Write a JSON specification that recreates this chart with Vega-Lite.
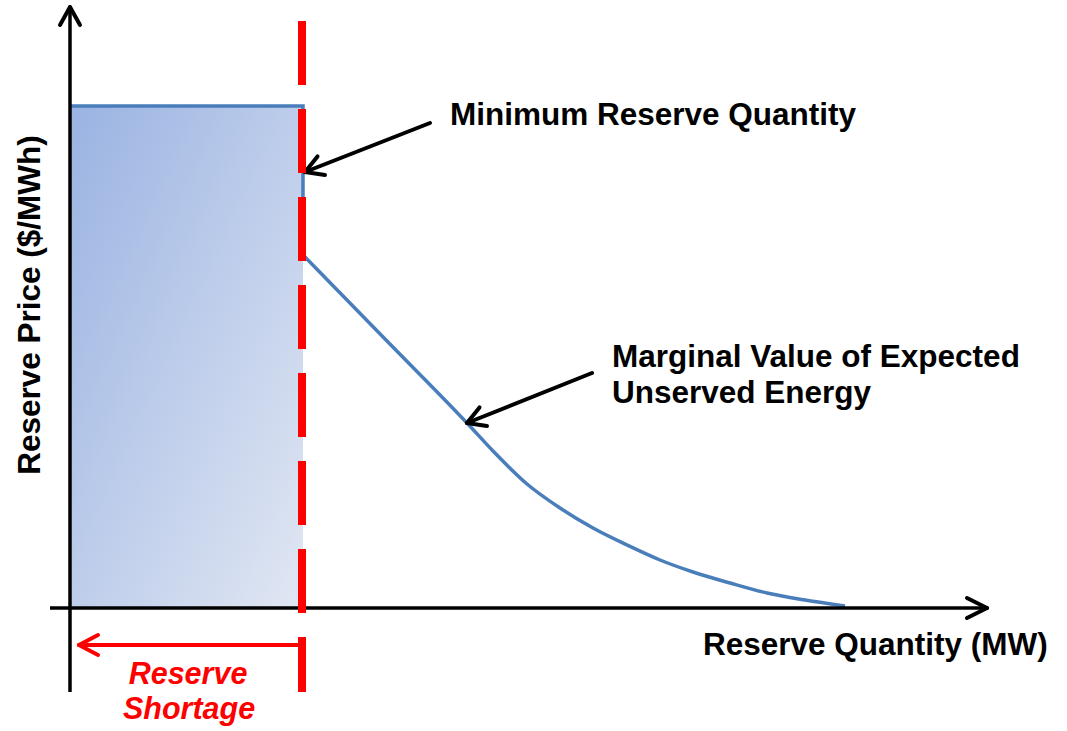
{
  "$schema": "https://vega.github.io/schema/vega-lite/v6.json",
  "width": 1067,
  "height": 731,
  "padding": 0,
  "autosize": {"type": "fit", "contains": "padding"},
  "background": "white",
  "config": {"view": {"stroke": null}},
  "datasets": {
    "fill": [{"x": 0, "y": 0, "x2": 23.3, "y2": 50.2}],
    "curve": [
      {"part": "step", "i": 0, "x": 0, "y": 50.2},
      {"part": "step", "i": 1, "x": 23.3, "y": 50.2},
      {"part": "step", "i": 2, "x": 23.3, "y": 35.1},
      {"part": "step", "i": 3, "x": 23.5, "y": 35.1},
      {"part": "tail", "i": 4, "x": 23.5, "y": 35.1},
      {"part": "tail", "i": 5, "x": 31.6, "y": 26.8},
      {"part": "tail", "i": 6, "x": 39.7, "y": 18.5},
      {"part": "tail", "i": 7, "x": 42.3, "y": 15.7},
      {"part": "tail", "i": 8, "x": 45.7, "y": 12.4},
      {"part": "tail", "i": 9, "x": 49.0, "y": 10.0},
      {"part": "tail", "i": 10, "x": 52.3, "y": 8.0},
      {"part": "tail", "i": 11, "x": 55.7, "y": 6.3},
      {"part": "tail", "i": 12, "x": 59.0, "y": 4.8},
      {"part": "tail", "i": 13, "x": 62.3, "y": 3.6},
      {"part": "tail", "i": 14, "x": 66.0, "y": 2.5},
      {"part": "tail", "i": 15, "x": 69.7, "y": 1.5},
      {"part": "tail", "i": 16, "x": 73.5, "y": 0.8},
      {"part": "tail", "i": 17, "x": 77.5, "y": 0.2}
    ],
    "segs": [
      {"g": "axis", "x": 0, "y": -8.4, "x2": 0, "y2": 60.1},
      {"g": "axis", "x": -2, "y": 0, "x2": 91.7, "y2": 0},
      {"g": "head", "x": -1, "y": 58.3, "x2": 0, "y2": 60.1},
      {"g": "head", "x": 1, "y": 58.3, "x2": 0, "y2": 60.1},
      {"g": "head", "x": 89.7, "y": 1.0, "x2": 91.7, "y2": 0},
      {"g": "head", "x": 89.7, "y": -1.0, "x2": 91.7, "y2": 0},
      {"g": "head", "x": 36.0, "y": 48.5, "x2": 23.5, "y2": 43.6},
      {"g": "head", "x": 25.5, "y": 43.3, "x2": 23.5, "y2": 43.6},
      {"g": "head", "x": 24.75, "y": 45.16, "x2": 23.5, "y2": 43.6},
      {"g": "head", "x": 52.2, "y": 23.5, "x2": 39.7, "y2": 18.5},
      {"g": "head", "x": 41.7, "y": 18.2, "x2": 39.7, "y2": 18.5},
      {"g": "head", "x": 40.95, "y": 20.06, "x2": 39.7, "y2": 18.5},
      {"g": "red", "x": 23.0, "y": -3.7, "x2": 0.9, "y2": -3.7},
      {"g": "red", "x": 2.8, "y": -2.7, "x2": 0.9, "y2": -3.7},
      {"g": "red", "x": 2.8, "y": -4.7, "x2": 0.9, "y2": -3.7},
      {"g": "dash", "x": 23.2, "y": 58.7, "x2": 23.2, "y2": -8.4}
    ],
    "labels": [
      {"g": "black", "x": 38.0, "y": 48.3, "t": "Minimum Reserve Quantity"},
      {"g": "black", "x": 54.2, "y": 24.1, "t": "Marginal Value of Expected"},
      {"g": "black", "x": 54.2, "y": 20.5, "t": "Unserved Energy"},
      {"g": "black", "x": 63.3, "y": -4.7, "t": "Reserve Quantity (MW)"},
      {"g": "yaxis", "x": -3.0, "y": 30.3, "t": "Reserve Price ($/MWh)"},
      {"g": "red", "x": 11.8, "y": -7.6, "t": "Reserve"},
      {"g": "red", "x": 11.9, "y": -11.1, "t": "Shortage"}
    ]
  },
  "encoding": {
    "x": {"field": "x", "type": "quantitative", "scale": {"domain": [-7, 99.7], "nice": false, "zero": false}, "axis": null},
    "y": {"field": "y", "type": "quantitative", "scale": {"domain": [-12.3, 60.8], "nice": false, "zero": false}, "axis": null}
  },
  "layer": [
    {
      "data": {"name": "fill"},
      "mark": {"type": "rect", "fill": {"gradient": "linear", "x1": 0, "y1": 0, "x2": 1, "y2": 1, "stops": [{"offset": 0, "color": "#9AB3E2"}, {"offset": 1, "color": "#E1E7F3"}]}},
      "encoding": {"x2": {"field": "x2"}, "y2": {"field": "y2"}}
    },
    {
      "data": {"name": "curve"},
      "transform": [{"filter": "datum.part === 'step'"}],
      "mark": {"type": "line", "color": "#4A7EBB", "strokeWidth": 3.5, "strokeJoin": "miter"},
      "encoding": {"order": {"field": "i", "type": "quantitative"}}
    },
    {
      "data": {"name": "curve"},
      "transform": [{"filter": "datum.part === 'tail'"}],
      "mark": {"type": "line", "color": "#4A7EBB", "strokeWidth": 3.5, "interpolate": "monotone"},
      "encoding": {"order": {"field": "i", "type": "quantitative"}}
    },
    {
      "data": {"name": "segs"},
      "transform": [{"filter": "datum.g === 'axis'"}],
      "mark": {"type": "rule", "color": "black", "strokeWidth": 3.5},
      "encoding": {"x2": {"field": "x2"}, "y2": {"field": "y2"}}
    },
    {
      "data": {"name": "segs"},
      "transform": [{"filter": "datum.g === 'head'"}],
      "mark": {"type": "rule", "color": "black", "strokeWidth": 4, "strokeCap": "round"},
      "encoding": {"x2": {"field": "x2"}, "y2": {"field": "y2"}}
    },
    {
      "data": {"name": "segs"},
      "transform": [{"filter": "datum.g === 'dash'"}],
      "mark": {"type": "rule", "color": "#FF0000", "strokeWidth": 8, "strokeDash": [64, 24]},
      "encoding": {"x2": {"field": "x2"}, "y2": {"field": "y2"}}
    },
    {
      "data": {"name": "segs"},
      "transform": [{"filter": "datum.g === 'red'"}],
      "mark": {"type": "rule", "color": "#FF0000", "strokeWidth": 4, "strokeCap": "round"},
      "encoding": {"x2": {"field": "x2"}, "y2": {"field": "y2"}}
    },
    {
      "data": {"name": "labels"},
      "transform": [{"filter": "datum.g === 'black'"}],
      "mark": {"type": "text", "font": "Liberation Sans", "fontSize": 31.5, "fontWeight": "bold", "color": "black", "align": "left", "baseline": "alphabetic"},
      "encoding": {"text": {"field": "t"}}
    },
    {
      "data": {"name": "labels"},
      "transform": [{"filter": "datum.g === 'yaxis'"}],
      "mark": {"type": "text", "font": "Liberation Sans", "fontSize": 31.5, "fontWeight": "bold", "color": "black", "align": "center", "baseline": "alphabetic", "angle": 270},
      "encoding": {"text": {"field": "t"}}
    },
    {
      "data": {"name": "labels"},
      "transform": [{"filter": "datum.g === 'red'"}],
      "mark": {"type": "text", "font": "Liberation Sans", "fontSize": 30.5, "fontWeight": "bold", "fontStyle": "italic", "color": "#FF0000", "align": "center", "baseline": "alphabetic"},
      "encoding": {"text": {"field": "t"}}
    }
  ]
}
